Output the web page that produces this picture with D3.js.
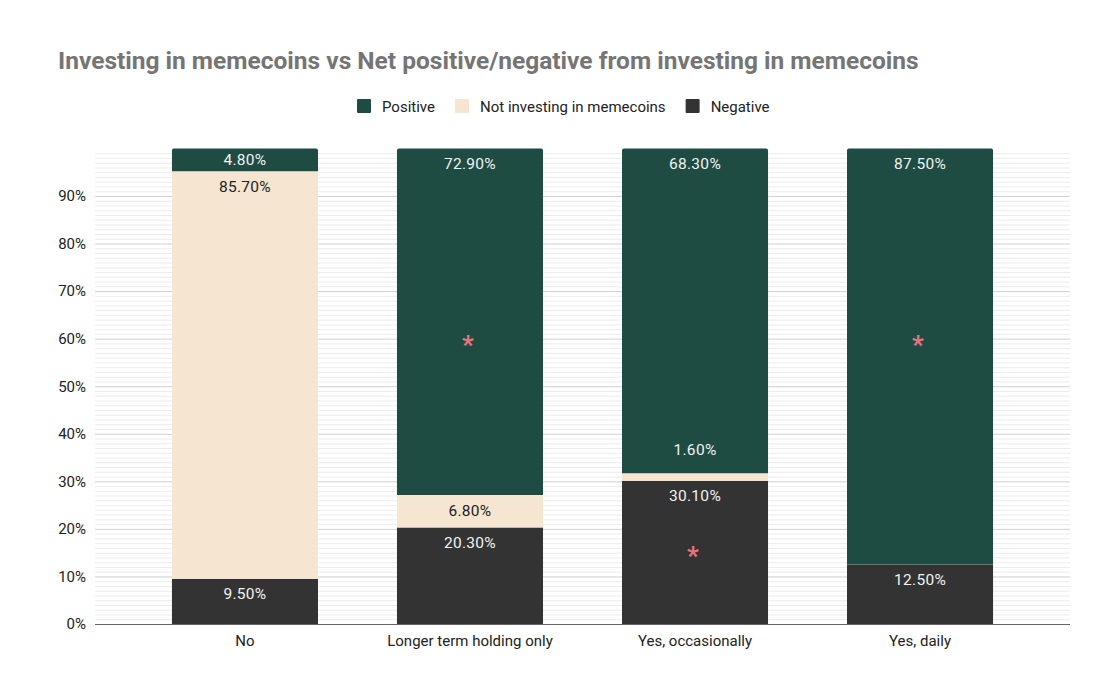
<!DOCTYPE html>
<html>
<head>
<meta charset="utf-8">
<script src="https://cdn.jsdelivr.net/npm/d3@7"></script>
<style>
  body { margin: 0; background: #fff; }
  svg { font-family: Roboto, "Noto Sans", sans-serif; }
</style>
</head>
<body>
<div id="chart"></div>
<script>
const categories = ['No', 'Longer term holding only', 'Yes, occasionally', 'Yes, daily'];
const seriesNames = ['Negative', 'Not investing in memecoins', 'Positive'];
const negative = [9.5, 20.3, 30.1, 12.5];
const notInvesting = [85.7, 6.8, 1.6, 0];
const positive = [4.8, 72.9, 68.3, 87.5];
const yTicks = [0, 10, 20, 30, 40, 50, 60, 70, 80, 90];
const legendOrder = ['Positive', 'Not investing in memecoins', 'Negative'];
// pink markers drawn on some bars
const markerCats = ['Longer term holding only', 'Yes, daily', 'Yes, occasionally'];
const markerValues = [59.3, 59.3, 14.9];

const W = 1110, H = 690;
const colors = {
  'Positive': '#1e4b42',
  'Not investing in memecoins': '#f6e6d1',
  'Negative': '#333333'
};
const labelColors = {
  'Positive': '#f2f2f2',
  'Not investing in memecoins': '#222222',
  'Negative': '#f2f2f2'
};

const svg = d3.select('#chart').append('svg')
  .attr('width', W).attr('height', H)
  .attr('viewBox', `0 0 ${W} ${H}`);

const x = d3.scaleBand().domain(categories).range([95, 1070])
  .paddingInner(0.351).paddingOuter(0.342);
const y = d3.scaleLinear().domain([0, 100]).range([624, 148.4]);

// title
svg.append('text')
  .attr('x', 58).attr('y', 69)
  .attr('font-size', 24.5).attr('font-weight', 'bold')
  .attr('fill', '#757575')
  .text('Investing in memecoins vs Net positive/negative from investing in memecoins');

// legend
const legend = svg.append('g').attr('font-size', 15).attr('fill', '#222');
let lx = 357;
legendOrder.forEach(name => {
  const g = legend.append('g').attr('transform', `translate(${lx},99)`);
  g.append('rect').attr('width', 14).attr('height', 14).attr('rx', 1).attr('fill', colors[name]);
  const t = g.append('text').attr('x', 25).attr('y', 12.5).attr('fill', '#222').text(name);
  lx += 25 + t.node().getComputedTextLength() + 20;
});

// gridlines
const grid = svg.append('g');
grid.selectAll('line.minor').data(d3.range(1, 100).filter(v => v % 10 !== 0))
  .join('line')
  .attr('x1', 95).attr('x2', 1070)
  .attr('y1', d => y(d) + 0.5).attr('y2', d => y(d) + 0.5)
  .attr('stroke', '#ececec').attr('stroke-width', 1);
grid.selectAll('line.major').data(yTicks.filter(v => v > 0))
  .join('line')
  .attr('x1', 95).attr('x2', 1070)
  .attr('y1', d => y(d) + 0.5).attr('y2', d => y(d) + 0.5)
  .attr('stroke', '#d0d0d0').attr('stroke-width', 1);

// y axis labels
const yAxis = svg.append('g')
  .attr('transform', 'translate(86,0)')
  .call(d3.axisLeft(y).tickValues(yTicks).tickSize(0).tickPadding(0).tickFormat(d => d + '%'));
yAxis.select('.domain').remove();
yAxis.selectAll('text').attr('font-size', 15).attr('fill', '#222').attr('font-family', 'Roboto, sans-serif');

// stacked data
const rows = categories.map((c, i) => ({
  cat: c,
  'Negative': negative[i],
  'Not investing in memecoins': notInvesting[i],
  'Positive': positive[i]
}));
const stacked = d3.stack().keys(seriesNames)(rows);

const bars = svg.append('g');
stacked.forEach(layer => {
  const name = layer.key;
  layer.forEach(d => {
    const v = d[1] - d[0];
    if (v <= 0) return;
    const x0 = x(d.data.cat), bw = x.bandwidth();
    const yTop = y(d[1]), yBot = y(d[0]);
    const isTop = d[1] >= 99.99;
    if (isTop) {
      const r = 2;
      bars.append('path')
        .attr('d', `M${x0},${yBot}V${yTop + r}Q${x0},${yTop} ${x0 + r},${yTop}H${x0 + bw - r}Q${x0 + bw},${yTop} ${x0 + bw},${yTop + r}V${yBot}Z`)
        .attr('fill', colors[name]);
    } else {
      bars.append('rect')
        .attr('x', x0).attr('y', yTop)
        .attr('width', bw).attr('height', yBot - yTop)
        .attr('fill', colors[name]);
    }
  });
});

// baseline
svg.append('line')
  .attr('x1', 95).attr('x2', 1070)
  .attr('y1', y(0) + 0.5).attr('y2', y(0) + 0.5)
  .attr('stroke', '#666').attr('stroke-width', 1);

// data labels
const labels = svg.append('g').attr('font-size', 15.5).attr('text-anchor', 'middle');
stacked.forEach((layer, li) => {
  const name = layer.key;
  layer.forEach(d => {
    const v = d[1] - d[0];
    if (v <= 0) return;
    const cx = x(d.data.cat) + x.bandwidth() / 2;
    const yTop = y(d[1]), yBot = y(d[0]);
    const h = yBot - yTop;
    let ly, fill = labelColors[name];
    if (h >= 32) {
      ly = yTop + 15;
    } else if (h >= 18) {
      ly = (yTop + yBot) / 2;
    } else {
      ly = yTop - 24;
      fill = labelColors[seriesNames[li + 1]] || '#222';
    }
    labels.append('text')
      .attr('x', cx).attr('y', ly).attr('dy', '0.35em')
      .attr('fill', fill)
      .attr('letter-spacing', 0.3)
      .text(v.toFixed(2) + '%');
  });
});

// x axis labels
const xAxis = svg.append('g')
  .attr('transform', `translate(0,${y(0)})`)
  .call(d3.axisBottom(x).tickSize(0).tickPadding(11));
xAxis.select('.domain').remove();
xAxis.selectAll('text').attr('font-size', 15).attr('fill', '#222').attr('font-family', 'Roboto, sans-serif');

// markers
svg.append('g').selectAll('text')
  .data(markerCats.map((c, i) => ({ cat: c, v: markerValues[i] })))
  .join('text')
  .attr('x', d => x(d.cat) + x.bandwidth() / 2 - 2)
  .attr('y', d => y(d.v) + 12)
  .attr('text-anchor', 'middle')
  .attr('font-size', 26).attr('font-weight', 'bold')
  .attr('fill', '#e8737a')
  .text('*');
</script>
</body>
</html>
